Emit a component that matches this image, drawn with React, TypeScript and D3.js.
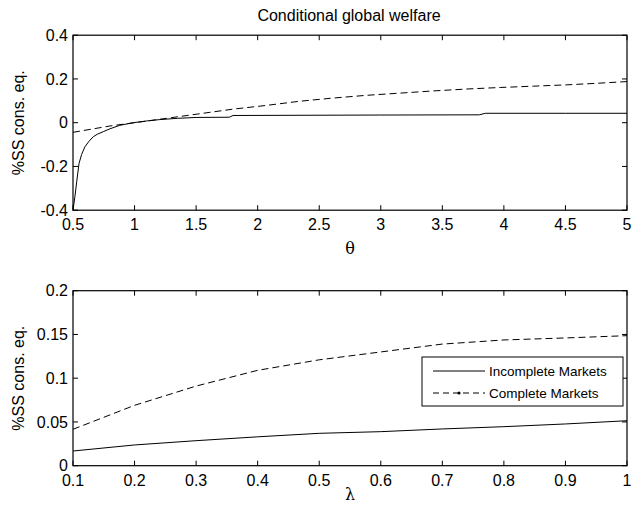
import React from "react";
import * as d3 from "d3";

// top panel: welfare vs theta
const thetaIncomplete = [0.5, 0.516, 0.53, 0.549, 0.57, 0.597, 0.63, 0.665, 0.7, 0.746, 0.8, 0.88, 0.99, 1.1, 1.2, 1.35, 1.5, 1.77, 1.8, 2.4, 3.0, 3.8, 3.85, 4.5, 5.0];
const welfareIncomplete = [-0.4, -0.336, -0.27, -0.186, -0.145, -0.11, -0.085, -0.064, -0.052, -0.041, -0.028, -0.012, 0.0, 0.008, 0.014, 0.02, 0.024, 0.025, 0.033, 0.034, 0.035, 0.036, 0.043, 0.043, 0.043];

const thetaComplete = [0.5, 0.8, 1.04, 1.26, 1.53, 1.8, 2.07, 2.34, 2.6, 2.88, 3.15, 3.42, 3.7, 3.97, 4.24, 4.51, 4.75, 5.0];
const welfareComplete = [-0.044, -0.015, 0.003, 0.02, 0.041, 0.062, 0.079, 0.098, 0.112, 0.125, 0.135, 0.145, 0.154, 0.161, 0.167, 0.173, 0.18, 0.188];

const thetaTicks = [0.5, 1, 1.5, 2, 2.5, 3, 3.5, 4, 4.5, 5];
const topYTicks = [-0.4, -0.2, 0, 0.2, 0.4];

// bottom panel: welfare vs lambda
const lambdaValues = [0.1, 0.2, 0.3, 0.4, 0.5, 0.6, 0.7, 0.8, 0.9, 1.0];
const lambdaIncomplete = [0.0168, 0.0237, 0.0286, 0.033, 0.037, 0.0389, 0.042, 0.0446, 0.0477, 0.0514];
const lambdaComplete = [0.0416, 0.069, 0.091, 0.109, 0.121, 0.13, 0.139, 0.1437, 0.146, 0.1486];

const lambdaTicks = [0.1, 0.2, 0.3, 0.4, 0.5, 0.6, 0.7, 0.8, 0.9, 1];
const bottomYTicks = [0, 0.05, 0.1, 0.15, 0.2];

const legendLabels = ["Incomplete Markets", "Complete Markets"];

const FONT = "'Liberation Sans', Arial, sans-serif";
const TICK = 5;

type Series = { xs: number[]; ys: number[]; dashed: boolean };

function Panel({
  left, right, top, bottom, xDomain, yDomain, xTicks, yTicks, series, xLabel, xLabelY, yLabel,
}: {
  left: number; right: number; top: number; bottom: number;
  xDomain: [number, number]; yDomain: [number, number];
  xTicks: number[]; yTicks: number[]; series: Series[];
  xLabel: string; xLabelY: number; yLabel: string;
}) {
  const x = d3.scaleLinear().domain(xDomain).range([left, right]);
  const y = d3.scaleLinear().domain(yDomain).range([bottom, top]);
  const line = d3.line<[number, number]>().x((d) => x(d[0])).y((d) => y(d[1]));
  const fmt = (v: number) => String(Math.round(v * 1000) / 1000);

  return (
    <g>
      {series.map((s, i) => (
        <path
          key={i}
          d={line(s.xs.map((v, j) => [v, s.ys[j]] as [number, number])) || ""}
          fill="none"
          stroke="#000"
          strokeWidth={1}
          strokeDasharray={s.dashed ? "7,4" : undefined}
        />
      ))}
      <rect x={left} y={top} width={right - left} height={bottom - top} fill="none" stroke="#000" strokeWidth={1.2} />
      {xTicks.map((t) => (
        <g key={"x" + t}>
          <line x1={x(t)} x2={x(t)} y1={bottom} y2={bottom - TICK} stroke="#000" />
          <line x1={x(t)} x2={x(t)} y1={top} y2={top + TICK} stroke="#000" />
          <text x={x(t)} y={bottom + 20} textAnchor="middle" fontSize={16} fontFamily={FONT}>{fmt(t)}</text>
        </g>
      ))}
      {yTicks.map((t) => (
        <g key={"y" + t}>
          <line x1={left} x2={left + TICK} y1={y(t)} y2={y(t)} stroke="#000" />
          <line x1={right} x2={right - TICK} y1={y(t)} y2={y(t)} stroke="#000" />
          <text x={left - 5} y={y(t)} dy="0.36em" textAnchor="end" fontSize={16} fontFamily={FONT}>{fmt(t)}</text>
        </g>
      ))}
      <text x={(left + right) / 2} y={xLabelY} textAnchor="middle" fontSize={16} fontFamily="'DejaVu Serif', serif">{xLabel}</text>
      <text
        transform={`translate(${24},${(top + bottom) / 2}) rotate(-90)`}
        textAnchor="middle"
        fontSize={16}
        fontFamily={FONT}
      >
        {yLabel}
      </text>
    </g>
  );
}

export default function App() {
  const left = 73;
  const right = 627;
  return (
    <svg width={633} height={508} style={{ position: "absolute", left: 0, top: 0, background: "#fff" }}>
      <text x={349} y={21} textAnchor="middle" fontSize={16} fontFamily={FONT}>Conditional global welfare</text>
      <Panel
        left={left} right={right} top={35.2} bottom={210.2}
        xDomain={[0.5, 5]} yDomain={[-0.4, 0.4]}
        xTicks={thetaTicks} yTicks={topYTicks}
        series={[
          { xs: thetaIncomplete, ys: welfareIncomplete, dashed: false },
          { xs: thetaComplete, ys: welfareComplete, dashed: true },
        ]}
        xLabel="θ" xLabelY={254} yLabel="%SS cons. eq."
      />
      <Panel
        left={left} right={right} top={290.7} bottom={465.7}
        xDomain={[0.1, 1]} yDomain={[0, 0.2]}
        xTicks={lambdaTicks} yTicks={bottomYTicks}
        series={[
          { xs: lambdaValues, ys: lambdaIncomplete, dashed: false },
          { xs: lambdaValues, ys: lambdaComplete, dashed: true },
        ]}
        xLabel="λ" xLabelY={500} yLabel="%SS cons. eq."
      />
      {/* legend */}
      <rect x={422} y={357} width={201} height={49} fill="#fff" stroke="#000" strokeWidth={1} />
      {legendLabels.map((lab, i) => {
        const yy = 371 + i * 22;
        return (
          <g key={lab}>
            <line x1={433} x2={485} y1={yy} y2={yy} stroke="#000" strokeDasharray={i === 1 ? "6,4" : undefined} />
            {i === 1 && <circle cx={459} cy={yy} r={1.6} fill="#000" />}
            <text x={489} y={yy} dy="0.36em" fontSize={13.5} fontFamily={FONT}>{lab}</text>
          </g>
        );
      })}
    </svg>
  );
}
